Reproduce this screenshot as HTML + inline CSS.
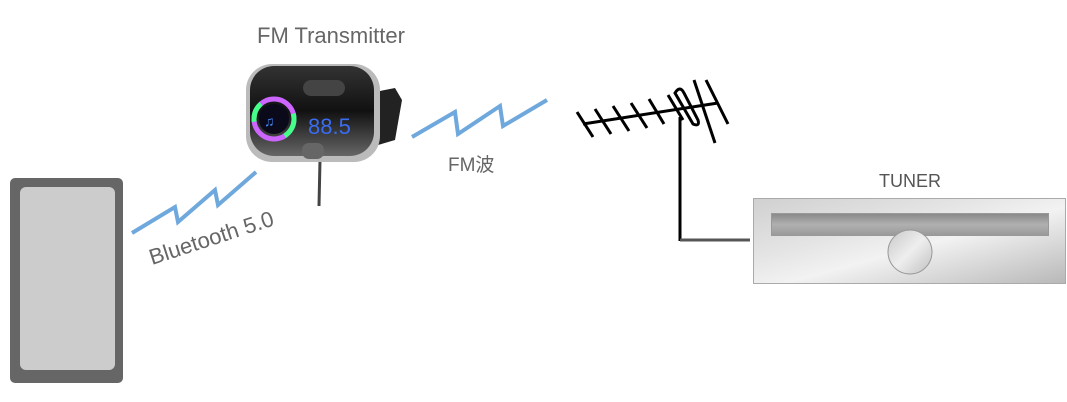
<!DOCTYPE html>
<html><head><meta charset="utf-8"><style>
html,body{margin:0;padding:0;background:#fff;width:1067px;height:402px;overflow:hidden}
</style></head><body>
<svg width="1067" height="402" viewBox="0 0 1067 402" xmlns="http://www.w3.org/2000/svg" font-family="Liberation Sans, Noto Sans CJK JP, sans-serif">
<defs>
<linearGradient id="tg" x1="0" y1="0" x2="1" y2="1">
<stop offset="0" stop-color="#d0d0d0"/><stop offset="0.35" stop-color="#e4e4e4"/><stop offset="0.55" stop-color="#f2f2f2"/><stop offset="1" stop-color="#b8b8b8"/></linearGradient>
<linearGradient id="sg" x1="0" y1="0" x2="0" y2="1">
<stop offset="0" stop-color="#888"/><stop offset="0.5" stop-color="#b0b0b0"/><stop offset="1" stop-color="#999"/></linearGradient>
<linearGradient id="kg" x1="0" y1="0" x2="1" y2="1">
<stop offset="0" stop-color="#c8c8c8"/><stop offset="0.5" stop-color="#eee"/><stop offset="1" stop-color="#c0c0c0"/></linearGradient>
<linearGradient id="bg" x1="0" y1="0" x2="0" y2="1">
<stop offset="0" stop-color="#333"/><stop offset="0.5" stop-color="#111"/><stop offset="1" stop-color="#666"/></linearGradient>
</defs>
<rect x="10" y="178" width="113" height="205" rx="5" fill="#666"/>
<rect x="20" y="187" width="95" height="183" rx="6" fill="#ccc"/>
<polyline points="132,233 175,207 178,222 215,190 218,205 256,172" fill="none" stroke="#6fa8dc" stroke-width="4"/>
<polyline points="412,137 455,112 458,134 500,106 503,126 547,100" fill="none" stroke="#6fa8dc" stroke-width="4"/>
<text x="152" y="265" font-size="22" fill="#666" transform="rotate(-18 152 265)">Bluetooth 5.0</text>
<text x="448" y="171" font-size="19" fill="#666">FM波</text>
<text x="257" y="43" font-size="22" fill="#666">FM Transmitter</text>
<line x1="320" y1="160" x2="319" y2="206" stroke="#444" stroke-width="3"/>
<path d="M375,92 L395,88 L402,100 L395,140 L378,145 Z" fill="#222"/>
<rect x="246" y="64" width="134" height="98" rx="26" fill="#bbb"/>
<rect x="250" y="66" width="124" height="90" rx="24" fill="url(#bg)"/>
<circle cx="274" cy="119" r="20" fill="none" stroke="#c6f" stroke-width="5"/>
<circle cx="274" cy="119" r="20" fill="none" stroke="#4f8" stroke-width="5" stroke-dasharray="20 40"/>
<circle cx="274" cy="119" r="15" fill="#0a0a1a"/>
<text x="264" y="126" font-size="14" fill="#48f">♫</text>
<rect x="303" y="80" width="42" height="16" rx="8" fill="#444"/>
<text x="308" y="134" font-size="22" fill="#3a6cf0">88.5</text>
<rect x="302" y="143" width="22" height="16" rx="7" fill="#666"/>
<g stroke="#000" stroke-width="3" fill="none">
<line x1="583" y1="124" x2="718" y2="103"/>
<line x1="577" y1="112" x2="593" y2="137"/>
<line x1="595" y1="109" x2="611" y2="134"/>
<line x1="613" y1="106" x2="629" y2="131"/>
<line x1="631" y1="103" x2="647" y2="128"/>
<line x1="649" y1="99" x2="664" y2="124"/>
<line x1="668" y1="95" x2="683" y2="120"/>
<path d="M675,93 Q680,85 684,93 L698,120 Q700,127 693,124 Z"/>
<line x1="694" y1="80" x2="715" y2="143"/>
<line x1="706" y1="80" x2="728" y2="124"/>
<line x1="680" y1="117" x2="680" y2="241"/>
</g>
<line x1="680" y1="240" x2="750" y2="240" stroke="#555" stroke-width="3"/>
<text x="910" y="187" font-size="18" fill="#555" text-anchor="middle">TUNER</text>
<rect x="753.5" y="198.5" width="312" height="85" fill="url(#tg)" stroke="#aaa"/>
<rect x="771.5" y="213.5" width="277" height="22" fill="url(#sg)" stroke="#999"/>
<circle cx="910" cy="252" r="22" fill="url(#kg)" stroke="#999"/>
</svg>
</body></html>
